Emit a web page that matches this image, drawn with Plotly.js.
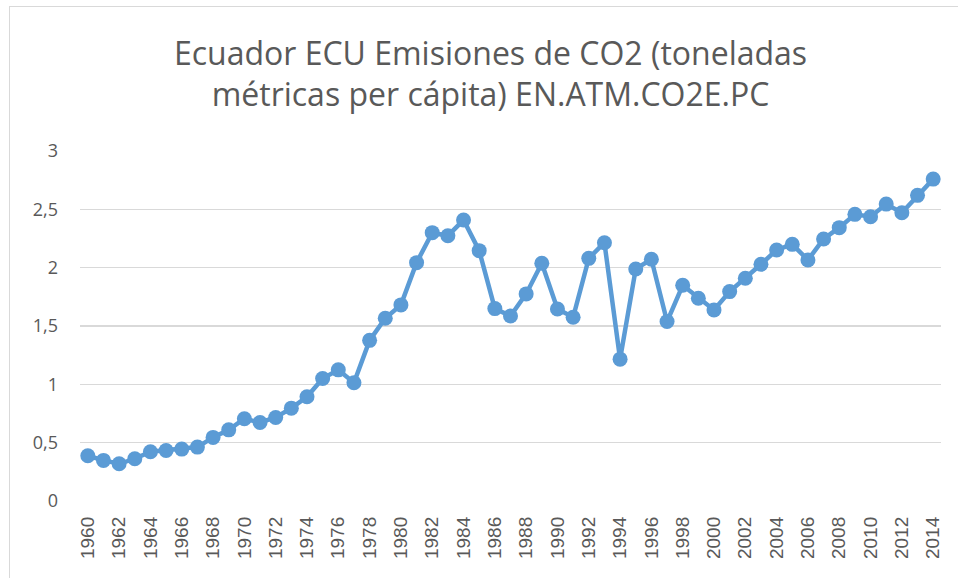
<!DOCTYPE html>
<html>
<head>
<meta charset="utf-8">
<script src="https://cdn.plot.ly/plotly-3.0.1.min.js"></script>
<style>
  html, body { margin: 0; padding: 0; background: #ffffff; }
  #wrap { position: relative; width: 958px; height: 578px; overflow: hidden; }
  #chart { width: 958px; height: 578px; }
  #frame { position: absolute; left: 9px; top: 6px; width: 1000px; height: 700px;
           border: 1.5px solid #d9d9d9; pointer-events: none; box-sizing: border-box; }
</style>
</head>
<body>
<div id="wrap">
  <div id="chart"></div>
  <div id="frame"></div>
</div>
<script>
const years = [1960,1961,1962,1963,1964,1965,1966,1967,1968,1969,
               1970,1971,1972,1973,1974,1975,1976,1977,1978,1979,
               1980,1981,1982,1983,1984,1985,1986,1987,1988,1989,
               1990,1991,1992,1993,1994,1995,1996,1997,1998,1999,
               2000,2001,2002,2003,2004,2005,2006,2007,2008,2009,
               2010,2011,2012,2013,2014];
const co2PerCapita = [0.388,0.348,0.319,0.362,0.422,0.433,0.445,0.462,0.545,0.610,
                      0.705,0.673,0.716,0.796,0.893,1.050,1.124,1.013,1.377,1.567,
                      1.681,2.043,2.300,2.274,2.408,2.146,1.649,1.586,1.775,2.038,
                      1.646,1.575,2.080,2.214,1.216,1.989,2.072,1.538,1.849,1.738,
                      1.638,1.795,1.909,2.029,2.152,2.200,2.066,2.246,2.343,2.457,
                      2.437,2.545,2.471,2.620,2.759];
const xTickLabels = ["1960","1962","1964","1966","1968","1970","1972","1974","1976","1978",
                     "1980","1982","1984","1986","1988","1990","1992","1994","1996","1998",
                     "2000","2002","2004","2006","2008","2010","2012","2014"];
const yTickVals = [0, 0.5, 1, 1.5, 2, 2.5, 3];
const yTickLabels = ["0","0,5","1","1,5","2","2,5","3"];
const titleText = "Ecuador ECU Emisiones de CO2 (toneladas<br>métricas per cápita) EN.ATM.CO2E.PC";

const trace = {
  x: years,
  y: co2PerCapita,
  type: 'scatter',
  mode: 'lines+markers',
  line: { color: '#5b9bd5', width: 4.5 },
  marker: { color: '#5b9bd5', size: 15 },
  hoverinfo: 'x+y'
};

const layout = {
  width: 958,
  height: 578,
  margin: { l: 80, r: 17, t: 151, b: 77 },
  paper_bgcolor: '#ffffff',
  plot_bgcolor: '#ffffff',
  showlegend: false,
  title: {
    text: titleText,
    font: { family: 'Open Sans, sans-serif', size: 32, color: '#595959' },
    x: 0.512,
    xanchor: 'center',
    y: 0.888,
    yanchor: 'top'
  },
  xaxis: {
    type: 'linear',
    range: [1959.5, 2014.5],
    tickmode: 'array',
    tickvals: xTickLabels.map(Number),
    ticktext: xTickLabels,
    tickangle: -90,
    showgrid: false,
    zeroline: false,
    showline: false,
    ticks: '',
    ticklabelstandoff: 11,
    tickfont: { family: 'Liberation Sans, Arial, sans-serif', size: 19, color: '#595959' }
  },
  yaxis: {
    range: [0, 3],
    tickmode: 'array',
    tickvals: yTickVals,
    ticktext: yTickLabels,
    showgrid: true,
    gridcolor: '#d9d9d9',
    gridwidth: 1.3,
    zeroline: false,
    showline: false,
    ticks: '',
    ticklabelstandoff: 21,
    tickfont: { family: 'Open Sans, sans-serif', size: 18, color: '#595959' }
  }
};

Plotly.newPlot('chart', [trace], layout, { displayModeBar: false, staticPlot: true });
</script>
</body>
</html>
